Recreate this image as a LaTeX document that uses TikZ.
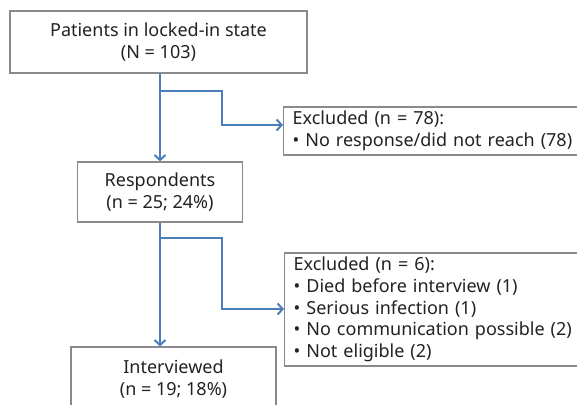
\documentclass[tikz,border=0pt]{standalone}
\usepackage{fontspec}
\setmainfont{Noto Sans}
\usetikzlibrary{arrows.meta,calc}
\definecolor{boxgray}{HTML}{8A8A8A}
\definecolor{flowblue}{HTML}{4A7EBB}
\definecolor{txtgray}{HTML}{222222}

\begin{document}
\begin{tikzpicture}[x=1pt, y=-1pt,
	box/.style = {draw=boxgray, line width=1.3pt, align=center, inner sep=0pt, text=txtgray,
		font=\fontsize{18}{21.8}\selectfont},
	exbox/.style = {box, align=left, anchor=west, text width=294pt, inner xsep=9pt},
	flow/.style = {draw=flowblue, line width=2pt, -{Straight Barb[length=5pt,width=11pt]}}]
	\useasboundingbox (0,0) rectangle (577,405);
	\clip (0,0) rectangle (577,404);

	\node [box, minimum width=297pt, minimum height=62pt] (patients) at (158.5,42) {Patients in locked-in state\\(N = 103)};
	\node [box, minimum width=165pt, minimum height=60pt] (resp) at (160,192) {Respondents\\(n = 25; 24\%)};
	\node [box, minimum width=205pt, minimum height=64pt] (interv) at (173.5,379) {Interviewed\\(n = 19; 18\%)};

	\node [exbox, minimum height=48pt] (excl1) at (283,131) {Excluded (n = 78):\\• No response/did not reach (78)};
	\node [exbox, minimum height=113pt] (excl2) at (284,309.5) {Excluded (n = 6):\\• Died before interview (1)\\• Serious infection (1)\\• No communication possible (2)\\• Not eligible (2)};

	\coordinate (fork1) at ($(patients.south -| resp.north)+(0,17)$);
	\coordinate (fork2) at ($(resp.south)+(0,15)$);

	\draw [flow] (patients.south -| resp.north) -- (resp.north);
	\draw [flow] (fork1) -| (222,125) -- (excl1.west |- 0,125);

	\draw [flow] (resp.south) -- (resp.south |- interv.north);
	\draw [flow] (fork2) -| (222,309) -- (excl2.west |- 0,309);
\end{tikzpicture}
\end{document}
